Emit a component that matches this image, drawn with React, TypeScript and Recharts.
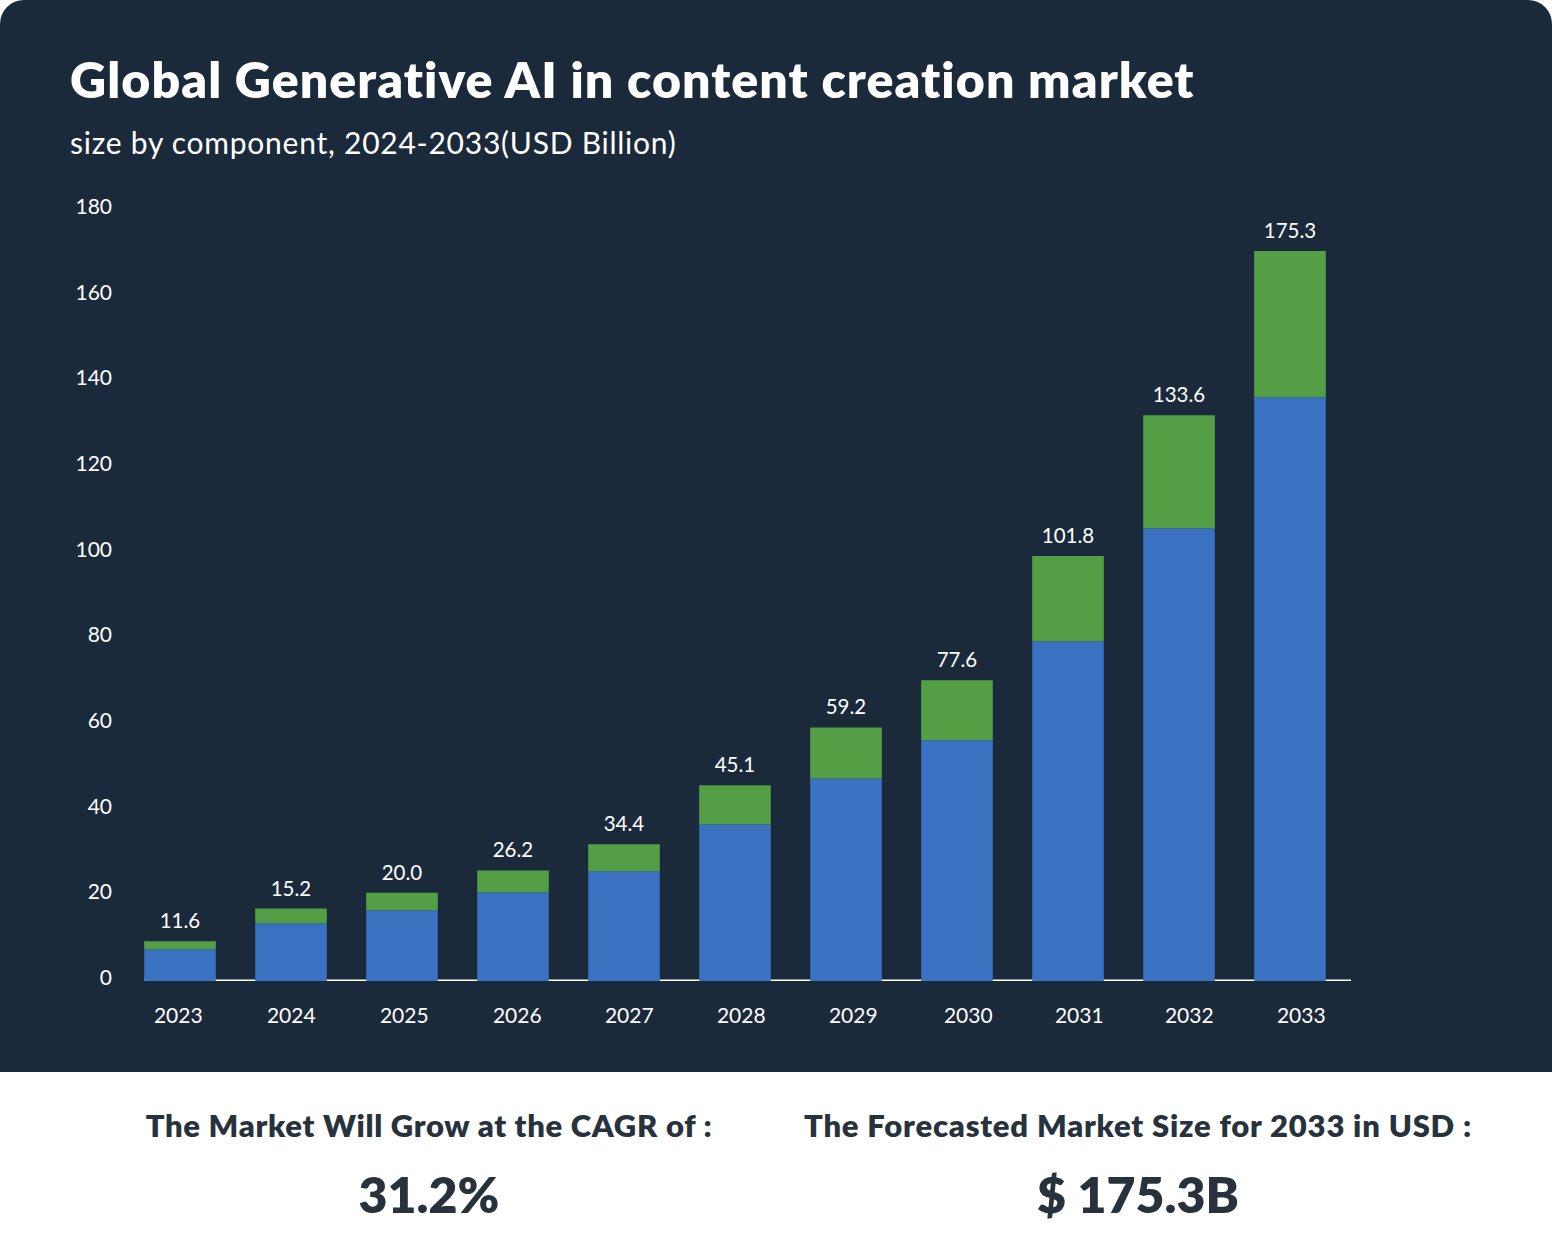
import { BarChart, Bar, XAxis, YAxis, LabelList, ReferenceLine } from 'recharts';

const years = ['2023', '2024', '2025', '2026', '2027', '2028', '2029', '2030', '2031', '2032', '2033'];
// segment heights read against the left axis, the printed totals do not quite line up with them
const blueValues = [7.4, 13.5, 16.5, 20.7, 25.6, 36.6, 47.3, 56.2, 79.3, 105.7, 136.3];
const greenValues = [1.9, 3.4, 4.1, 5.1, 6.3, 9.1, 11.9, 14.0, 19.9, 26.4, 34.1];
const totalLabels = ['11.6', '15.2', '20.0', '26.2', '34.4', '45.1', '59.2', '77.6', '101.8', '133.6', '175.3'];
const yTicks = [0, 20, 40, 60, 80, 100, 120, 140, 160, 180];

const chartData = years.map((year, i) => ({
  year,
  blue: blueValues[i],
  green: greenValues[i],
  total: totalLabels[i],
}));

const FONT = 'Lato, sans-serif';
const BG = '#1b2a3b';
const INK = '#27323c';

// the year labels drift to the right of their bars in the original
const tickNudge = [-1.4, 0.6, 2.6, 4.6, 5.6, 6.6, 7.6, 11.6, 11.6, 10.6, 11.6];

const YearTick = ({ x, y, index, payload }: any) => (
  <text x={x + tickNudge[index]} y={y} dy={40} textAnchor="middle" fill="#fff" fontSize={21} fontFamily={FONT}>
    {payload.value}
  </text>
);

const absText = (left: number, top: number, width: number, size: number, weight: number, color: string, align: any, spacing = 0): any => ({
  position: 'absolute',
  left,
  top,
  width,
  fontSize: size,
  fontWeight: weight,
  color,
  textAlign: align,
  fontFamily: FONT,
  letterSpacing: spacing,
  fontVariantLigatures: 'none',
  lineHeight: `${Math.round(size * 1.2)}px`,
  whiteSpace: 'nowrap',
});

export default function App() {
  return (
    <div style={{ position: 'absolute', left: 0, top: 0, width: 1552, height: 1259, background: '#fff', overflow: 'hidden' }}>
      <div style={{ position: 'absolute', left: 0, top: 0, width: 1552, height: 1072, background: BG, borderRadius: '24px 24px 0 0' }} />
      <div style={absText(70, 49, 1300, 50, 800, '#fff', 'left', 1.07)}>Global Generative AI in content creation market</div>
      <div style={absText(70, 124, 800, 30, 400, '#fff', 'left', 0.75)}>size by component, 2024-2033(USD Billion)</div>

      <div style={{ position: 'absolute', left: 0, top: 0 }}>
        <BarChart
          width={1552}
          height={1072}
          data={chartData}
          margin={{ top: 210, right: 201, bottom: 31, left: 0 }}
          barSize={71.6}
        >
          <XAxis
            dataKey="year"
            height={60}
            padding={{ left: -19.8, right: 5.8 }}
            axisLine={false}
            tickLine={false}
            tickSize={0}
            interval={0}
            tick={YearTick}
          />
          <YAxis
            width={144}
            domain={[0, 180]}
            ticks={yTicks}
            interval={0}
            axisLine={false}
            tickLine={false}
            tickSize={0}
            tickMargin={32}
            tick={{ fill: '#fff', fontSize: 21, fontFamily: FONT, dy: -3.5 }}
          />
          <ReferenceLine y={0.15} stroke="#fff" strokeWidth={1.5} zIndex={0} />
          <Bar dataKey="blue" stackId="a" fill="#3b71c1" isAnimationActive={false} />
          <Bar dataKey="green" stackId="a" fill="#549f46" isAnimationActive={false}>
            <LabelList dataKey="total" position="top" offset={13} fill="#fff" fontSize={20.5} fontFamily={FONT} />
          </Bar>
        </BarChart>
      </div>

      <div style={absText(0, 1107, 858, 31, 800, INK, 'center', 0.7)}>The Market Will Grow at the CAGR of :</div>
      <div style={absText(0, 1164, 858, 50, 800, INK, 'center')}>31.2%</div>
      <div style={absText(638, 1107, 1000, 31, 800, INK, 'center', 0.8)}>The Forecasted Market Size for 2033 in USD :</div>
      <div style={absText(638, 1164, 1000, 50, 800, INK, 'center')}>$ 175.3B</div>
    </div>
  );
}
